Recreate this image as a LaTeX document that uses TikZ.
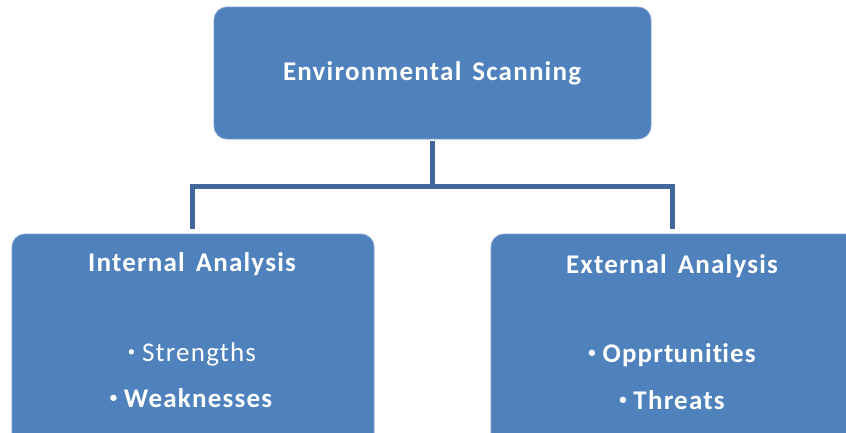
\documentclass[tikz,border=0pt]{standalone}
\usepackage{fontspec}
\setmainfont{Carlito}
\newfontfamily\lblfont[LetterSpace=4.5,WordSpace=1.5,Ligatures={NoCommon,NoContextual}]{Carlito}
\definecolor{boxblue}{HTML}{4F81BD}
\definecolor{boxedge}{HTML}{7A9FCF}
\definecolor{linkblue}{HTML}{41679A}
\newcommand{\bul}{\raisebox{0.18em}{\scalebox{0.55}{•}}\hspace{0.25em}}
\begin{document}
\begin{tikzpicture}[x=1pt,y=-1pt,
  card/.style={fill=boxblue,draw=boxedge,line width=0.8pt,rounded corners=13pt},
  lbl/.style={text=white,font=\lblfont\fontsize{27}{32}\selectfont\bfseries,inner sep=0pt,anchor=center},
  link/.style={draw=linkblue,line width=5pt}]
\useasboundingbox (0,0) rectangle (846,432);
\begin{scope}
\clip (0,0) rectangle (846,432);
\draw[card] (214,7) rectangle (651,139);
\draw[card] (12,234) rectangle (374,450);
\draw[card] (491,234) rectangle (870,450);
\end{scope}
\node[lbl] (top) at (432,73) {Environmental Scanning};
\node[lbl] (int) at (192,264) {Internal Analysis};
\node[lbl] (ext) at (672,266) {External Analysis};
\node[lbl,font=\lblfont\fontsize{27}{32}\selectfont] (s1) at (192,354) {\bul Strengths};
\node[lbl] (s2) at (191,398) {\bul Weaknesses};
\node[lbl] (o1) at (672,355) {\bul Opprt\kern0pt unit\kern0pt ies};
\node[lbl] (o2) at (672,400) {\bul Threats};
\coordinate (a) at (432,141);
\coordinate (b) at (432,186);
\coordinate (l) at (192,186);
\coordinate (r) at (672,186);
\coordinate (ld) at (192,229);
\coordinate (rd) at (672,229);
\draw[link] (a) -- (b);
\draw[link,line join=miter] (ld) -- (l) -- (r) -- (rd);
\end{tikzpicture}
\end{document}
